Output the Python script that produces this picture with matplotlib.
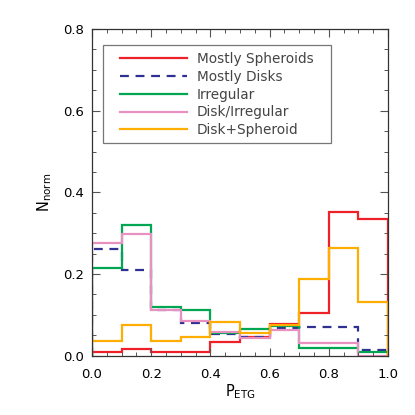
import matplotlib
matplotlib.use("Agg")
import matplotlib.pyplot as plt
import numpy as np
from matplotlib.ticker import MultipleLocator
from matplotlib.patches import Rectangle

bin_edges = [0.0, 0.1, 0.2, 0.3, 0.4, 0.5, 0.6, 0.7, 0.8, 0.9, 1.0]
mostly_spheroids = [0.010, 0.016, 0.010, 0.010, 0.033, 0.047, 0.078, 0.105, 0.352, 0.335]
mostly_disks = [0.261, 0.210, 0.112, 0.079, 0.052, 0.047, 0.068, 0.070, 0.071, 0.013]
irregular = [0.215, 0.320, 0.120, 0.112, 0.055, 0.065, 0.072, 0.018, 0.018, 0.008]
disk_irregular = [0.277, 0.298, 0.112, 0.084, 0.058, 0.044, 0.062, 0.030, 0.030, 0.0]
disk_spheroid = [0.037, 0.074, 0.037, 0.047, 0.083, 0.056, 0.074, 0.189, 0.264, 0.131]

labels = ["Mostly Spheroids", "Mostly Disks", "Irregular", "Disk/Irregular", "Disk+Spheroid"]
colors = ["#ee2028", "#2e3192", "#00a651", "#e890c0", "#ffad00"]

fig = plt.figure(figsize=(4.15, 4.15), dpi=100)
ax = fig.add_axes([0.2217, 0.1429, 0.7133, 0.7871])

series = [mostly_spheroids, mostly_disks, irregular, disk_irregular, disk_spheroid]
handles = []
for vals, lab, col in zip(series, labels, colors):
    ls = (0, (4, 3)) if lab == "Mostly Disks" else "-"
    ax.stairs(vals, bin_edges, baseline=0, fill=False, color=col, lw=1.6,
              linestyle=ls, label=lab)
    handles.append(plt.Line2D([], [], color=col, lw=1.6, linestyle=ls))

ax.set_xlim(0, 1.0)
ax.set_ylim(0, 0.8)
ax.xaxis.set_major_locator(MultipleLocator(0.2))
ax.xaxis.set_minor_locator(MultipleLocator(0.05))
ax.yaxis.set_major_locator(MultipleLocator(0.2))
ax.yaxis.set_minor_locator(MultipleLocator(0.05))
ax.tick_params(which="both", direction="in", top=True, right=True, color="#555555")
ax.tick_params(which="major", length=6, width=0.8, labelsize=9.5)
ax.tick_params(axis="x", which="major", pad=9)
ax.tick_params(axis="y", which="major", pad=6)
ax.tick_params(which="minor", length=3, width=0.7)
for s in ax.spines.values():
    s.set_color("#333333")
    s.set_linewidth(0.9)

ax.set_xlabel(r"$\mathregular{P_{ETG}}$", fontsize=10.5, labelpad=1)
ax.set_ylabel(r"$\mathregular{N_{norm}}$", fontsize=10.5, labelpad=6)

# legend frame drawn as a plain rectangle
ax.add_patch(Rectangle((0.037, 0.651), 0.77, 0.30, transform=ax.transAxes,
                       fill=True, facecolor="white", edgecolor="#777777",
                       linewidth=0.9, zorder=4))
leg = ax.legend(handles, labels, loc="upper left", bbox_to_anchor=(0.0946, 0.929),
                fontsize=9.8, handlelength=4.9, handletextpad=0.75,
                labelspacing=0.27, borderpad=0.0, borderaxespad=0.0,
                frameon=False)
leg.set_zorder(5)
for t in leg.get_texts():
    t.set_color("#444444")

fig.savefig("out.png", dpi=100)
